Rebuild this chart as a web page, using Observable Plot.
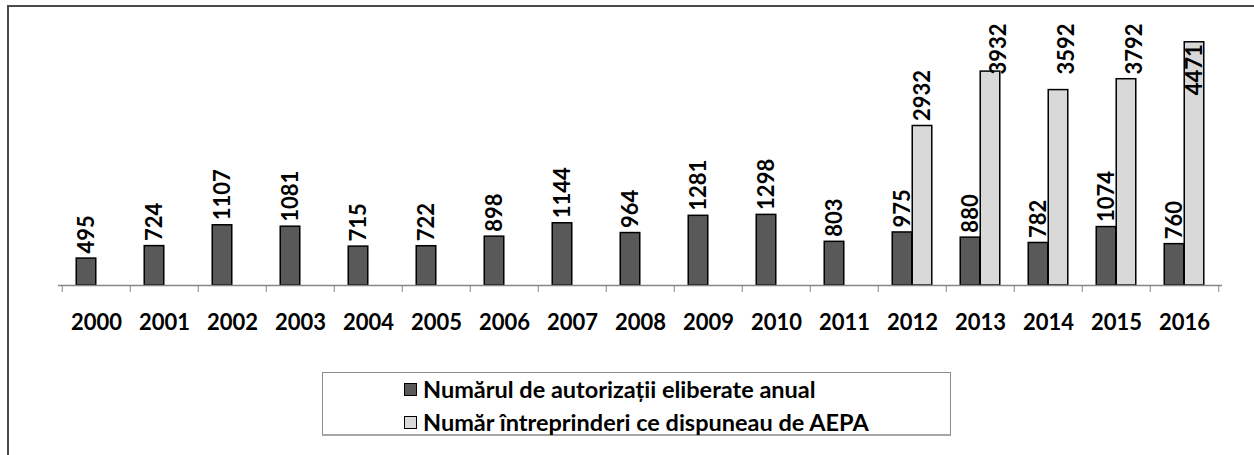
<!DOCTYPE html>
<html><head><meta charset="utf-8">
<script src="https://cdn.jsdelivr.net/npm/d3@7"></script>
<script src="https://cdn.jsdelivr.net/npm/@observablehq/plot@0.6"></script>
<style>
html,body{margin:0;padding:0;background:#fff;}
body{width:1254px;height:455px;position:relative;overflow:hidden;font-family:Lato,"Open Sans",sans-serif;}
#frame{position:absolute;left:7px;top:5px;width:1300px;height:500px;border-top:2px solid #4a4a4a;border-left:2px solid #4a4a4a;}
#chart{position:absolute;left:0;top:0;}
#legend{position:absolute;left:322px;top:372px;width:627px;height:61px;border:1px solid #8c8c8c;border-bottom:2px solid #a6a6a6;box-sizing:content-box;}
.row{position:absolute;left:81px;display:flex;align-items:center;font-weight:700;font-size:23.5px;color:#000;white-space:nowrap;line-height:26px;}
.sw{width:11px;height:11px;border:1px solid #000;margin-right:6px;flex:none;}
#chart text{font-weight:700;}
</style></head>
<body>
<div id="frame"></div>
<div id="chart"></div>
<div id="legend"></div>
<script>
const years = ["2000","2001","2002","2003","2004","2005","2006","2007","2008","2009","2010","2011","2012","2013","2014","2015","2016"];
const authorizations = [495,724,1107,1081,715,722,898,1144,964,1281,1298,803,975,880,782,1074,760];
const aepaYears = ["2012","2013","2014","2015","2016"];
const aepaHolders = [2932,3932,3592,3792,4471];
const seriesNames = ["Numărul de autorizații eliberate anual","Număr întreprinderi ce dispuneau de AEPA"];
const seriesColors = ["#595959","#d9d9d9"];
const yMax = 5000;

const dark = years.map((year, i) => ({year, value: authorizations[i]}));
const light = aepaYears.map((year, i) => ({year, value: aepaHolders[i]}));

const width = 1254, height = 340;
const marginLeft = 58, marginRight = 32, marginTop = 13, marginBottom = 55;
const bw = (width - marginLeft - marginRight) / years.length;
const barW = 20;

// Excel-like label placement: above the bar, clamped to the top, or inside the bar end
const placement = v => v > 0.84 * yMax ? "inside" : v > 0.7 * yMax ? "top" : "above";

const labelStyle = {text: d => String(d.value), rotate: -90, fontSize: 22, fontWeight: "bold", fill: "#000"};

const chart = Plot.plot({
  width, height, marginLeft, marginRight, marginTop, marginBottom,
  style: {background: "transparent", fontFamily: "Lato, 'Open Sans', sans-serif", overflow: "visible"},
  x: {type: "band", domain: years, padding: 0},
  y: {domain: [0, yMax], axis: null},
  marks: [
    Plot.barY(dark, {x: "year", y: "value", fill: seriesColors[0], stroke: "#000", strokeWidth: 1.5,
      insetLeft: bw / 2 - barW, insetRight: bw / 2}),
    Plot.barY(light, {x: "year", y: "value", fill: seriesColors[1], stroke: "#000", strokeWidth: 1.5,
      insetLeft: bw / 2, insetRight: bw / 2 - barW}),
    Plot.ruleY([0], {stroke: "#868686", strokeWidth: 1.3}),
    Plot.axisX(years, {tickSize: 7, fill: "none", stroke: "#868686", dx: -bw / 2, label: null}),
    Plot.axisX([years[years.length - 1]], {tickSize: 7, fill: "none", stroke: "#868686", dx: bw / 2, label: null}),
    Plot.axisX({tickSize: 0, tickPadding: 29, fontSize: 22, fontWeight: "bold", fill: "#000", label: null}),
    Plot.text(dark, {x: "year", y: "value", ...labelStyle, textAnchor: "start", dx: -barW / 2, dy: -5}),
    Plot.text(light.filter(d => placement(d.value) === "above"), {x: "year", y: "value", ...labelStyle, textAnchor: "start", dx: barW / 2, dy: -5}),
    Plot.text(light.filter(d => placement(d.value) === "top"), {x: "year", frameAnchor: "top", ...labelStyle, textAnchor: "end", dx: barW / 2, dy: 10}),
    Plot.text(light.filter(d => placement(d.value) === "inside"), {x: "year", y: "value", ...labelStyle, textAnchor: "end", dx: barW / 2, dy: 2})
  ]
});
document.getElementById("chart").append(chart);

const legend = document.getElementById("legend");
seriesNames.forEach((name, i) => {
  const row = document.createElement("div");
  row.className = "row";
  row.style.top = (i === 0 ? 3 : 36) + "px";
  const sw = document.createElement("div");
  sw.className = "sw";
  sw.style.background = seriesColors[i];
  const t = document.createElement("span");
  t.textContent = name;
  row.append(sw, t);
  legend.append(row);
});
</script>
</body></html>
